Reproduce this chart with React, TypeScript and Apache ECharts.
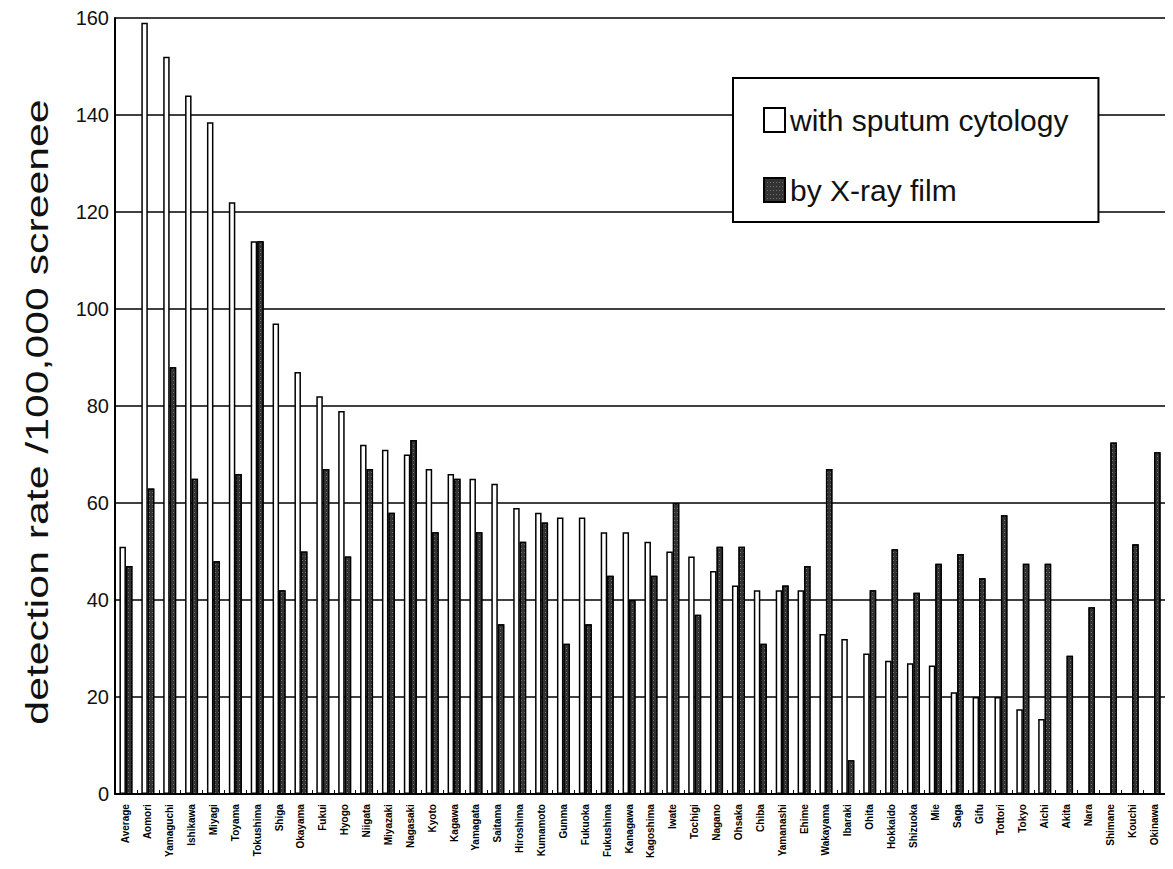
import React, { useEffect, useRef } from "react";
import * as echarts from "echarts";

const categories = [
  "Average", "Aomori", "Yamaguchi", "Ishikawa", "Miyagi", "Toyama", "Tokushima", "Shiga",
  "Okayama", "Fukui", "Hyogo", "Niigata", "Miyazaki", "Nagasaki", "Kyoto", "Kagawa",
  "Yamagata", "Saitama", "Hiroshima", "Kumamoto", "Gunma", "Fukuoka", "Fukushima", "Kanagawa",
  "Kagoshima", "Iwate", "Tochigi", "Nagano", "Ohsaka", "Chiba", "Yamanashi", "Ehime",
  "Wakayama", "Ibaraki", "Ohita", "Hokkaido", "Shizuoka", "Mie", "Saga", "Gifu",
  "Tottori", "Tokyo", "Aichi", "Akita", "Nara", "Shimane", "Kouchi", "Okinawa",
];

const sputumCytology = [
  51, 159, 152, 144, 138.5, 122, 114, 97,
  87, 82, 79, 72, 71, 70, 67, 66,
  65, 64, 59, 58, 57, 57, 54, 54,
  52, 50, 49, 46, 43, 42, 42, 42,
  33, 32, 29, 27.5, 27, 26.5, 21, 20,
  20, 17.5, 15.5, null, null, null, null, null,
];

const xrayFilm = [
  47, 63, 88, 65, 48, 66, 114, 42,
  50, 67, 49, 67, 58, 73, 54, 65,
  54, 35, 52, 56, 31, 35, 45, 40,
  45, 60, 37, 51, 51, 31, 43, 47,
  67, 7, 42, 50.5, 41.5, 47.5, 49.5, 44.5,
  57.5, 47.5, 47.5, 28.5, 38.5, 72.5, 51.5, 70.5,
];

const yTicks = { min: 0, max: 160, interval: 20 };
const seriesNames = ["with sputum cytology", "by X-ray film"];
const yTitle = "detection rate /100,000 screenee";

export default function App() {
  const ref = useRef<HTMLDivElement>(null);

  useEffect(() => {
    if (!ref.current) return;
    const chart = echarts.init(ref.current, null, { renderer: "svg" });
    chart.setOption({
      animation: false,
      backgroundColor: "#ffffff",
      grid: { left: 107, right: 8, top: 8, bottom: 54, containLabel: false },
      xAxis: {
        type: "category",
        data: categories,
        axisLine: { show: true, lineStyle: { color: "#000", width: 2 } },
        axisTick: { show: true, inside: true, length: 4, lineStyle: { color: "#000" } },
        axisLabel: {
          interval: 0,
          rotate: 90,
          margin: 10,
          fontSize: 10,
          fontWeight: "bold",
          color: "#000",
          fontFamily: "Liberation Sans",
        },
        splitLine: { show: false },
      },
      yAxis: {
        type: "value",
        min: yTicks.min,
        max: yTicks.max,
        interval: yTicks.interval,
        axisLine: { show: true, lineStyle: { color: "#000", width: 2 } },
        axisTick: { show: false },
        axisLabel: {
          margin: 6,
          fontSize: 20,
          color: "#111",
          fontFamily: "Liberation Sans",
        },
        splitLine: { show: true, lineStyle: { color: "#000", width: 1.5 } },
      },
      legend: {
        orient: "vertical",
        left: 725,
        top: 70,
        data: seriesNames,
        icon: "rect",
        padding: [27, 30, 17, 30],
        itemGap: 40,
        itemWidth: 21,
        itemHeight: 24,
        backgroundColor: "#ffffff",
        borderColor: "#000",
        borderWidth: 2,
        textStyle: { fontSize: 30, color: "#111", fontFamily: "Liberation Sans" },
      },
      series: [
        {
          name: seriesNames[0],
          type: "bar",
          data: sputumCytology,
          barWidth: 6.5,
          barGap: "0%",
          itemStyle: { color: "#ffffff", borderColor: "#000", borderWidth: 1.5 },
        },
        {
          name: seriesNames[1],
          type: "bar",
          data: xrayFilm,
          barWidth: 6.5,
          barGap: "0%",
          itemStyle: {
            color: "#333333",
            borderColor: "#000",
            borderWidth: 1.2,
            decal: {
              symbol: "rect",
              symbolSize: 1,
              color: "rgba(255,255,255,0.3)",
              dashArrayX: [1, 2],
              dashArrayY: [1, 3],
              rotation: 0,
            },
          },
        },
      ],
      graphic: [
        {
          type: "text",
          x: 29,
          y: 404,
          rotation: Math.PI / 2,
          scaleX: 1.38,
          style: {
            text: yTitle,
            fontSize: 31,
            fontFamily: "Liberation Sans",
            fill: "#111",
            align: "center",
            verticalAlign: "middle",
          },
        },
      ],
    });
    return () => chart.dispose();
  }, []);

  return <div ref={ref} style={{ width: 1165, height: 853 }} />;
}
